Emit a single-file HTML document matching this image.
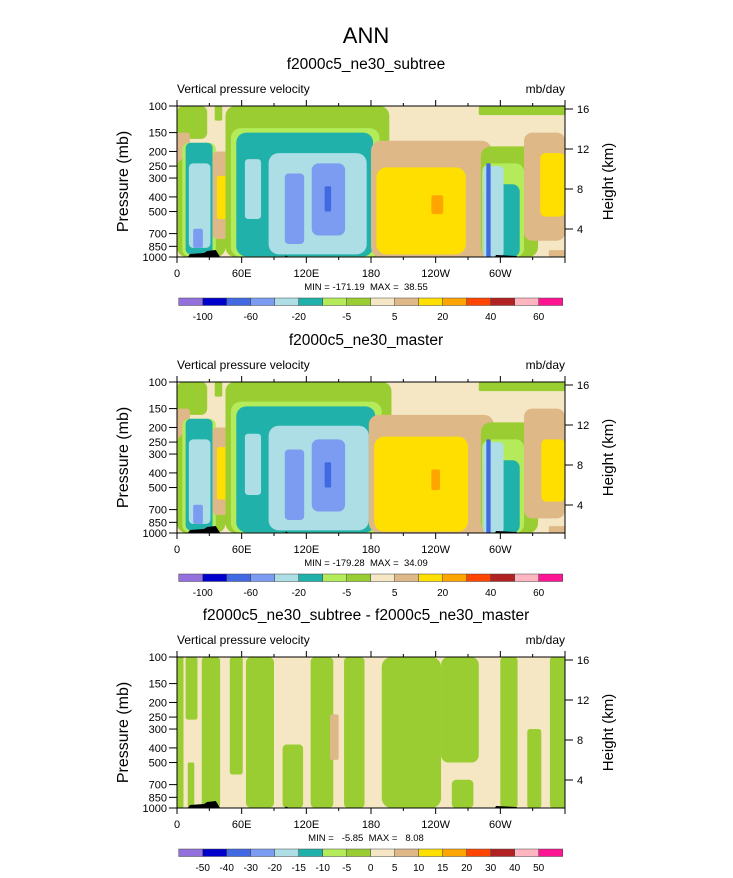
<!DOCTYPE html>
<html><head><meta charset="utf-8">
<style>
body{margin:0;background:#fff;}
svg text{font-family:"Liberation Sans",Arial,sans-serif;fill:#000;white-space:pre;}
</style></head>
<body>
<svg id="fig" width="733" height="873" viewBox="0 0 733 873" xmlns="http://www.w3.org/2000/svg">
<text x="366" y="43" font-size="22" text-anchor="middle">ANN</text>
</svg>
<script>
// ---- data ----
const colors=["#9370DB","#0000CD","#4169E1","#7B9CF0","#ADDEE6","#20B2AA","#B4EB5A","#9ACD32","#F5E6C4","#DEB887","#FFDF00","#FFA500","#FF4500","#B22222","#FFB6C1","#FF1493"];
const pTicks=[100,150,200,250,300,400,500,700,850,1000];
const hTicks=[16,12,8,4];
const lonTicks=[0,60,120,180,240,300];
const lonLabels=["0","60E","120E","180","120W","60W"];
const cbLabelsA=["-100","-60","-20","-5","5","20","40","60"];
const cbLabelsB=["-50","-40","-30","-20","-15","-10","-5","0","5","10","15","20","30","40","50"];
const titles=["f2000c5_ne30_subtree","f2000c5_ne30_master","f2000c5_ne30_subtree - f2000c5_ne30_master"];
const minmax=["MIN = -171.19  MAX =  38.55","MIN = -179.28  MAX =  34.09","MIN =   -5.85  MAX =   8.08"];
// shapes: [lonLeft, lonRight, pTop, pBottom, colorIndex]
const shapes1=[
[0,28,100,165,7],[35,42,100,125,7],[45,197,100,215,7],[280,360,100,115,7],
[0,12,150,620,9],
[0,45,220,1000,7],[5,36,175,990,6],[8,33,175,960,5],[11,31,240,870,4],[15,24,650,870,3],
[33,54,200,760,9],[37,47,290,560,10],
[45,193,130,1000,7],[50,188,140,1000,6],[55,182,150,990,5],[85,176,205,960,4],[63,78,225,560,4],
[100,118,280,820,3],[125,156,240,720,3],[137,143,340,500,2],
[180,292,170,1000,9],[185,268,255,960,10],[236,247,390,520,11],
[282,335,185,1000,7],[283,322,240,1000,6],[284,318,330,1000,5],[284,303,250,1000,4],[287,291,240,1000,2],
[322,360,150,780,9],[337,360,205,540,10],[345,360,900,1000,9]];
const shapes2=[
[0,28,100,165,7],[35,42,100,125,7],[45,199,100,200,7],[280,360,100,115,7],
[0,12,150,620,9],
[0,45,220,1000,7],[5,36,175,990,6],[8,33,175,960,5],[11,31,240,870,4],[15,24,650,870,3],
[33,54,200,760,9],[37,47,270,600,10],
[45,195,125,1000,7],[50,190,135,1000,6],[55,184,145,990,5],[85,178,195,960,4],[63,78,220,560,4],
[100,118,280,820,3],[125,156,240,720,3],[137,143,340,500,2],
[178,294,165,1000,9],[183,270,230,980,10],[236,244,380,520,11],
[282,335,185,1000,7],[283,322,240,1000,6],[284,318,330,1000,5],[284,303,250,1000,4],[287,291,240,1000,2],
[322,360,150,800,9],[338,360,240,620,10],[345,360,900,1000,9]];
const shapes3=[
[0,6,100,1000,7],[8,19,100,260,7],[10,16,500,1000,7],[23,40,100,1000,7],[49,61,100,600,7],
[64,90,100,1000,7],[98,117,380,1000,7],[124,145,100,1000,7],[155,174,100,1000,7],
[190,245,100,1000,7],[245,280,100,500,7],[255,275,650,1000,7],[300,316,100,1000,7],
[325,338,300,1000,7],[346,360,100,1000,7],
[142,150,240,480,9]];
const allShapes=[shapes1,shapes2,shapes3];
// ---- layout ----
const X0=177,X1=565,tops=[106,382,657],H=151;
const NS="http://www.w3.org/2000/svg";
const svg=document.getElementById('fig');
function mk(tag,attrs,parent){const e=document.createElementNS(NS,tag);for(const k in attrs)e.setAttribute(k,attrs[k]);(parent||svg).appendChild(e);return e;}
function xs(lon){return X0+lon*(X1-X0)/360;}
function ys(top,p){return top+(Math.log10(p)-2)*H;}
for(let k=0;k<3;k++){
  const top=tops[k];
  const g=mk('g',{});
  
  
  const t=mk('text',{x:366,y:top-37,'font-size':15.5,'text-anchor':'middle'});t.textContent=titles[k];
  
  const l=mk('text',{x:X0,y:top-13,'font-size':12});l.textContent='Vertical pressure velocity';
  
  const u=mk('text',{x:X1,y:top-13,'font-size':12,'text-anchor':'end'});u.textContent='mb/day';
  
  const cp=mk('clipPath',{id:'clip'+k});mk('rect',{x:X0,y:top,width:X1-X0,height:H},cp);
  g.setAttribute('clip-path','url(#clip'+k+')');
  const bg=mk('rect',{x:X0,y:top,width:X1-X0,height:H,fill:colors[8]},g);
  
  for(const s of allShapes[k]){
    const x=xs(s[0]),w=xs(s[1])-x,y=ys(top,s[2]),h=ys(top,s[3])-y;
    const r=Math.min(Math.min(w,h)*0.2,10);
    const e=mk('rect',{x:x,y:y,width:w,height:h,rx:r,ry:r,fill:colors[s[4]]},g);
    
    
  }
  const topo=mk('path',{d:`M${xs(10)},${top+H} L${xs(12)},${top+H-3} L${xs(25)},${top+H-4} L${xs(28)},${top+H-6} L${xs(36)},${top+H-7} L${xs(40)},${top+H} Z M${xs(100)},${top+H} L${xs(101)},${top+H-1.5} L${xs(104)},${top+H} Z M${xs(295)},${top+H} L${xs(296)},${top+H-2} L${xs(315)},${top+H-1} L${xs(316)},${top+H} Z`,fill:'#000'},g);
  
  const fr=mk('rect',{x:X0,y:top,width:X1-X0,height:H,fill:'none',stroke:'#000','stroke-width':1});
  
  for(let lon=0;lon<=360;lon+=30){
    const len=lon%60===0?6:3;
    mk('line',{x1:xs(lon),x2:xs(lon),y1:top,y2:top-len,stroke:'#000'});
    mk('line',{x1:xs(lon),x2:xs(lon),y1:top+H,y2:top+H+len,stroke:'#000'});
  }
  lonTicks.forEach((lon,i)=>{const e=mk('text',{x:xs(lon),y:top+H+20,'font-size':11,'text-anchor':'middle'});e.textContent=lonLabels[i];
    });
  pTicks.forEach(p=>{const y=ys(top,p);mk('line',{x1:X0-8,x2:X0,y1:y,y2:y,stroke:'#000'});
    const e=mk('text',{x:X0-10,y:y+4,'font-size':11,'text-anchor':'end'});e.textContent=p;
    });
  hTicks.forEach(h=>{const y=top+3+(16-h)*10;mk('line',{x1:X1,x2:X1+8,y1:y,y2:y,stroke:'#000'});
    const e=mk('text',{x:X1+12,y:y+4,'font-size':11});e.textContent=h;
    });
  const yt=mk('text',{transform:`translate(128,${top+H/2}) rotate(-90)`,'font-size':16,'text-anchor':'middle'});yt.textContent='Pressure (mb)';
  
  const ht=mk('text',{transform:`translate(613,${top+H/2}) rotate(-90)`,'font-size':15,'text-anchor':'middle'});ht.textContent='Height (km)';
  
  const mm=mk('text',{x:366,y:top+H+33,'font-size':9.5,'text-anchor':'middle'});mm.textContent=minmax[k];
  
  const cy=top+192,bw=24,cx=178.7;
  for(let i=0;i<16;i++){const r=mk('rect',{x:cx+i*bw,y:cy,width:bw,height:7.5,fill:colors[i],stroke:'#444','stroke-width':0.5});
    }
  const labs=k<2?cbLabelsA:cbLabelsB;
  labs.forEach((s,i)=>{const b=k<2?2*i+1:i+1;const e=mk('text',{x:cx+b*bw,y:cy+22,'font-size':10,'text-anchor':'middle'});e.textContent=s;
    });
}
</script>
</body></html>
